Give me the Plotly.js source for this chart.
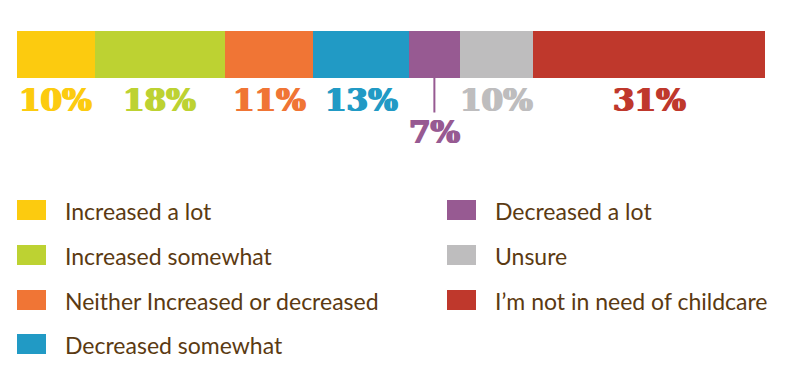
<!DOCTYPE html>
<html><head><meta charset="utf-8">
<script src="https://cdn.plot.ly/plotly-3.0.1.min.js"></script>
<style>html,body{margin:0;padding:0;background:#fff}#chart{width:787px;height:381px}</style>
</head><body><div id="chart"></div>
<script>
const categories = ["Increased a lot", "Increased somewhat", "Neither Increased or decreased", "Decreased somewhat", "Decreased a lot", "Unsure", "I\u2019m not in need of childcare"];
// segment widths (labels are the rounded published figures)
const values = [10.4, 17.4, 11.8, 12.8, 6.8, 9.8, 31.0];
const labels = ["10%", "18%", "11%", "13%", "7%", "10%", "31%"];
const colors = ["#FCCB0F", "#BDD232", "#F07535", "#219AC5", "#975A92", "#BEBDBE", "#BF382C"];

const W = 787, H = 381;
const L = 17, R = 22, T = 31, PH = 47;
const PW = W - L - R;
const px2x = px => (px - L) / PW;
const py2y = py => (T + PH - py) / PH;
const brown = "#5B3A12";
const labelFont = c => ({family: "DejaVu Serif", size: 31, weight: "bold", color: c,
  shadow: "1px 0px 0px " + c + ", -1px 0px 0px " + c});

const traces = values.map((v, i) => ({
  type: "bar", orientation: "h", x: [v], y: ["all"], name: categories[i],
  marker: {color: colors[i], line: {width: 0}}, hoverinfo: "skip", showlegend: false
}));

const annotations = [];
const shapes = [];
let cum = 0;
values.forEach((v, i) => {
  const mid = cum + v / 2;
  cum += v;
  if (v < 8) {
    annotations.push({x: mid, xref: "x", y: 0, yref: "paper", text: labels[i], showarrow: true,
      arrowhead: 0, arrowwidth: 2, arrowcolor: colors[i], ax: 0, ay: 54, standoff: 0,
      font: labelFont(colors[i])});
  } else {
    annotations.push({x: mid, xref: "x", y: py2y(100), yref: "paper", yanchor: "middle", xanchor: "center",
      text: labels[i], showarrow: false, font: labelFont(colors[i])});
  }
});

// custom legend: two columns
const rowY = [210, 255, 300, 344];
categories.forEach((c, i) => {
  const col = i < 4 ? 0 : 1;
  const row = i < 4 ? i : i - 4;
  const sx = col === 0 ? 17 : 447;
  const tx = col === 0 ? 63 : 493;
  const cy = rowY[row];
  shapes.push({type: "rect", xref: "paper", yref: "paper", x0: px2x(sx), x1: px2x(sx + 29),
    y0: py2y(cy - 10), y1: py2y(cy + 10), fillcolor: colors[i], line: {width: 0}});
  annotations.push({xref: "paper", yref: "paper", x: px2x(tx), y: py2y(cy + 1), xanchor: "left", yanchor: "middle",
    text: c, showarrow: false, font: {family: "Lato", size: 23, color: brown}});
});

const layout = {
  width: W, height: H,
  margin: {l: L, r: R, t: T, b: H - T - PH, pad: 0},
  paper_bgcolor: "#fff", plot_bgcolor: "#fff",
  barmode: "stack", bargap: 0,
  xaxis: {range: [0, 100], visible: false, fixedrange: true},
  yaxis: {range: [-0.5, 0.5], visible: false, fixedrange: true},
  showlegend: false,
  annotations: annotations, shapes: shapes
};
Plotly.newPlot("chart", traces, layout, {displayModeBar: false, staticPlot: true});
</script></body></html>
